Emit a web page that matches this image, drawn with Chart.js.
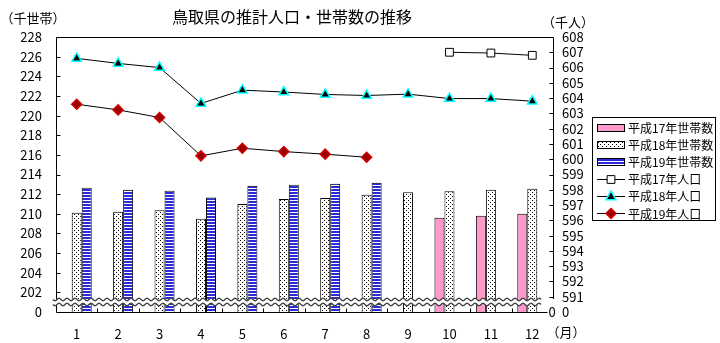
<!DOCTYPE html>
<html>
<head>
<meta charset="utf-8">
<script src="https://cdn.jsdelivr.net/npm/chart.js@4/dist/chart.umd.min.js"></script>
<style>
html, body { margin: 0; padding: 0; background: #fff; }
</style>
</head>
<body>
<canvas id="myChart" width="720" height="343"></canvas>
<script>
var months = ["1", "2", "3", "4", "5", "6", "7", "8", "9", "10", "11", "12"];

// 世帯数 (千世帯)
var households17 = [null, null, null, null, null, null, null, null, null, 209.6, 209.8, 210.0];
var households18 = [210.1, 210.2, 210.35, 209.5, 211.0, 211.5, 211.6, 211.95, 212.2, 212.3, 212.45, 212.55];
var households19 = [212.65, 212.45, 212.35, 211.65, 212.85, 212.95, 213.05, 213.15, null, null, null, null];

// 人口 (千人)
var population17 = [null, null, null, null, null, null, null, null, null, 607.0, 606.95, 606.8];
var population18 = [606.6, 606.27, 606.0, 603.65, 604.52, 604.4, 604.24, 604.17, 604.26, 603.97, 603.97, 603.8];
var population19 = [603.6, 603.23, 602.73, 600.22, 600.72, 600.5, 600.33, 600.13, null, null, null, null];

var seriesNames = ["平成17年世帯数", "平成18年世帯数", "平成19年世帯数", "平成17年人口", "平成18年人口", "平成19年人口"];

var FONT = '"Noto Sans CJK JP", "Noto Sans", sans-serif';
Chart.defaults.font.family = FONT;
Chart.defaults.font.size = 13;
Chart.defaults.color = "#000";

function dotPattern() {
    var c = document.createElement("canvas");
    c.width = 4; c.height = 4;
    var g = c.getContext("2d");
    g.fillStyle = "#fff"; g.fillRect(0, 0, 4, 4);
    g.fillStyle = "#000";
    g.fillRect(0, 0, 1, 1);
    g.fillRect(2, 2, 1, 1);
    return g.createPattern(c, "repeat");
}
function stripePattern() {
    var c = document.createElement("canvas");
    c.width = 4; c.height = 3;
    var g = c.getContext("2d");
    g.fillStyle = "#fff"; g.fillRect(0, 0, 4, 3);
    g.fillStyle = "#2a2ad8"; g.fillRect(0, 0, 4, 2);
    return g.createPattern(c, "repeat");
}

function drawMarker(ctx, style, x, y, r, fill, stroke, lw) {
    ctx.save();
    ctx.beginPath();
    if (style == "rect") {
        var s = r * Math.SQRT1_2;
        ctx.rect(x - s, y - s, 2 * s, 2 * s);
    } else if (style == "triangle") {
        ctx.moveTo(x, y - r);
        ctx.lineTo(x + r * 0.9, y + r * 0.6);
        ctx.lineTo(x - r * 0.9, y + r * 0.6);
        ctx.closePath();
    } else {
        ctx.moveTo(x, y - r); ctx.lineTo(x + r, y); ctx.lineTo(x, y + r); ctx.lineTo(x - r, y);
        ctx.closePath();
    }
    ctx.fillStyle = fill; ctx.fill();
    ctx.strokeStyle = stroke; ctx.lineWidth = lw; ctx.stroke();
    ctx.restore();
}

var decor = {
    id: "decor",
    afterDatasetsDraw: function(chart) {
        var ctx = chart.ctx, a = chart.chartArea;
        var xs = chart.scales.x, yl = chart.scales.y, yr = chart.scales.y1;
        ctx.save();
        ctx.strokeStyle = "#000";
        ctx.lineWidth = 1;
        ctx.beginPath();
        var L = Math.round(a.left) + 0.5, R = Math.round(a.right) + 0.5;
        var T = Math.round(a.top) + 0.5, B = Math.round(a.bottom) + 0.5;
        ctx.moveTo(L, B); ctx.lineTo(L, T); ctx.lineTo(R, T);
        ctx.lineTo(R, Math.round(yr.getPixelForValue(591)) + 2);
        ctx.moveTo(L, B); ctx.lineTo(R - 6, B);
        // inward tick marks
        yl.ticks.forEach(function(t) {
            if (t.value <= 200) return;
            var y = Math.round(yl.getPixelForValue(t.value)) + 0.5;
            ctx.moveTo(L, y); ctx.lineTo(L + 4, y);
        });
        yr.ticks.forEach(function(t) {
            if (t.value <= 590) return;
            var y = Math.round(yr.getPixelForValue(t.value)) + 0.5;
            ctx.moveTo(R, y); ctx.lineTo(R - 4, y);
        });
        for (var i = 1; i < months.length; i++) {
            var x = Math.round((xs.getPixelForValue(i - 1) + xs.getPixelForValue(i)) / 2) + 0.5;
            ctx.moveTo(x, B); ctx.lineTo(x, B - 4);
        }
        ctx.stroke();

        // axis break
        var yMid = a.bottom - 10;
        var x0 = a.left - 3, x1 = a.right - 12;
        function wave(off) {
            var pts = [];
            for (var x = x0; x <= x1; x += 1) pts.push([x, yMid + off + 1.3 * Math.sin((x - x0) * Math.PI / 4)]);
            return pts;
        }
        var up = wave(-2.5), dn = wave(2.5);
        ctx.beginPath();
        ctx.moveTo(up[0][0], up[0][1]);
        up.forEach(function(p) { ctx.lineTo(p[0], p[1]); });
        for (var k = dn.length - 1; k >= 0; k--) ctx.lineTo(dn[k][0], dn[k][1]);
        ctx.closePath();
        ctx.fillStyle = "#fff";
        ctx.fill();
        ctx.strokeStyle = "#444";
        ctx.lineWidth = 1.4;
        [up, dn].forEach(function(w) {
            ctx.beginPath();
            ctx.moveTo(w[0][0], w[0][1]);
            w.forEach(function(p) { ctx.lineTo(p[0], p[1]); });
            ctx.stroke();
        });
        ctx.restore();
    },
    afterDraw: function(chart) {
        var ctx = chart.ctx, a = chart.chartArea;
        ctx.save();
        ctx.fillStyle = "#000";
        ctx.textBaseline = "middle";
        ctx.textAlign = "center";
        ctx.font = "16px " + FONT;
        ctx.fillText("鳥取県の推計人口・世帯数の推移", 292, 17);
        ctx.font = "13px " + FONT;
        ctx.fillText("（千世帯）", 33, 18);
        ctx.fillText("（千人）", 568, 22);
        ctx.fillText("（月）", 566, 332);
        ctx.fillText("0", a.right - 1, a.bottom);

        // legend
        var lx = 592.5, ly = 117.5, lw = 123, lh = 103;
        ctx.strokeStyle = "#000"; ctx.lineWidth = 1;
        ctx.strokeRect(lx, ly, lw, lh);
        ctx.textAlign = "left";
        ctx.font = "12px " + FONT;
        chart.data.datasets.forEach(function(ds, i) {
            var cy = 127.5 + i * 17.1;
            if (ds.type == "bar") {
                ctx.fillStyle = ds.backgroundColor;
                ctx.fillRect(597, Math.round(cy) - 4, 28, 8);
                ctx.strokeRect(597.5, Math.round(cy) - 3.5, 27, 7);
            } else {
                ctx.beginPath();
                ctx.moveTo(597, Math.round(cy) + 0.5); ctx.lineTo(625, Math.round(cy) + 0.5);
                ctx.stroke();
                drawMarker(ctx, ds.pointStyle, 611, Math.round(cy) + 0.5, ds.pointRadius, ds.pointBackgroundColor, ds.pointBorderColor, ds.pointBorderWidth);
            }
            ctx.fillStyle = "#000";
            ctx.fillText(ds.label, 628, cy + 1);
        });
        ctx.restore();
    }
};

new Chart("myChart", {
    data: {
        labels: months,
        datasets: [{
            type: "bar", label: seriesNames[0], data: households17, yAxisID: "y", order: 1,
            backgroundColor: "#ff99cc", borderColor: "#000", borderWidth: 1
        }, {
            type: "bar", label: seriesNames[1], data: households18, yAxisID: "y", order: 1,
            backgroundColor: dotPattern(), borderColor: "#000", borderWidth: 1
        }, {
            type: "bar", label: seriesNames[2], data: households19, yAxisID: "y", order: 1,
            backgroundColor: stripePattern(), borderColor: "#000", borderWidth: 1
        }, {
            type: "line", label: seriesNames[3], data: population17, yAxisID: "y1", order: 0,
            borderColor: "#000", borderWidth: 1, pointStyle: "rect", pointRadius: 5.5,
            pointBackgroundColor: "#fff", pointBorderColor: "#000", pointBorderWidth: 1
        }, {
            type: "line", label: seriesNames[4], data: population18, yAxisID: "y1", order: 0,
            borderColor: "#000", borderWidth: 1, pointStyle: "triangle", pointRadius: 5.5,
            pointBackgroundColor: "#000", pointBorderColor: "#00ffff", pointBorderWidth: 1.5
        }, {
            type: "line", label: seriesNames[5], data: population19, yAxisID: "y1", order: 0,
            borderColor: "#000", borderWidth: 1, pointStyle: "rectRot", pointRadius: 5,
            pointBackgroundColor: "#9b0000", pointBorderColor: "#d00000", pointBorderWidth: 1.5
        }]
    },
    options: {
        responsive: false,
        animation: false,
        layout: { padding: { top: 37, left: 0, right: 0, bottom: 0 } },
        plugins: {
            legend: { display: false },
            title: { display: false },
            tooltip: { enabled: false }
        },
        datasets: {
            bar: { categoryPercentage: 0.725, barPercentage: 1.0 }
        },
        scales: {
            x: {
                offset: true,
                grid: { display: false },
                border: { display: false },
                ticks: { padding: 6, maxRotation: 0 },
                afterFit: function(s) { s.height = 31; }
            },
            y: {
                position: "left",
                min: 200, max: 228,
                grid: { display: false },
                border: { display: false },
                ticks: {
                    stepSize: 2, padding: 6, autoSkip: false,
                    callback: function(v) { return v == 200 ? "0" : v; }
                },
                afterFit: function(s) { s.width = 56; }
            },
            y1: {
                position: "right",
                min: 590, max: 608,
                grid: { display: false },
                border: { display: false },
                ticks: {
                    stepSize: 1, padding: 1, autoSkip: false,
                    callback: function(v) { return v == 590 ? "0" : v; }
                },
                afterFit: function(s) { s.width = 167; }
            }
        }
    },
    plugins: [decor]
});
</script>
</body>
</html>
